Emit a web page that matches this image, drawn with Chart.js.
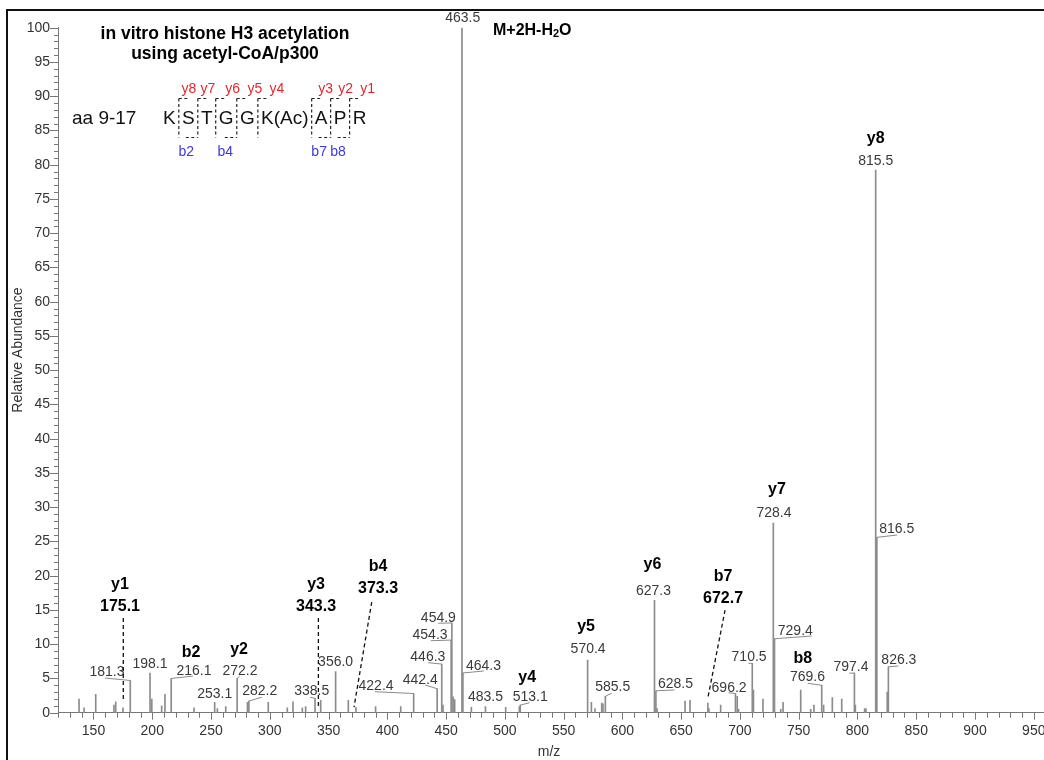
<!DOCTYPE html>
<html>
<head>
<meta charset="utf-8">
<script src="https://cdn.jsdelivr.net/npm/chart.js@4.4.1/dist/chart.umd.min.js"></script>
<style>
  html, body { margin: 0; padding: 0; background: #fff; }
  #wrap { width: 1044px; height: 760px; position: relative; }
</style>
</head>
<body>
<div id="wrap"><canvas id="spectrum" width="1044" height="760"></canvas></div>
<script>
// MS/MS spectrum of the acetylated histone H3 peptide (aa 9-17)
const peakMz = [137.7, 142.0, 151.9, 167.4, 168.9, 175.1, 181.3, 198.1, 199.6, 208.0,
  210.8, 216.1, 235.5, 253.1, 255.4, 262.5, 272.2, 281.0, 282.2, 298.7,
  314.9, 319.7, 327.7, 330.5, 338.5, 343.3, 356.0, 366.8, 373.3, 390.0,
  411.4, 422.4, 442.4, 446.3, 447.4, 454.3, 454.9, 456.0, 457.3, 463.5,
  464.3, 471.5, 483.5, 500.7, 512.3, 513.1, 570.4, 573.6, 576.7, 582.4,
  583.5, 585.5, 627.3, 628.5, 629.5, 653.3, 657.5, 672.7, 673.6, 683.6,
  696.2, 697.7, 698.8, 710.5, 711.5, 719.6, 728.4, 729.4, 734.7, 736.7,
  751.7, 760.2, 763.0, 769.6, 771.2, 778.6, 786.6, 797.4, 798.2, 806.1,
  807.2, 815.5, 816.5, 825.3, 826.3];
const peakIntensity = [2.0, 0.7, 2.7, 1.1, 1.6, 0.7, 4.7, 5.8, 2.0, 1.0,
  2.7, 5.0, 0.7, 1.5, 0.6, 0.9, 5.0, 1.5, 1.7, 1.5,
  0.7, 1.6, 0.7, 0.9, 2.1, 1.8, 6.0, 1.8, 0.8, 0.9,
  0.9, 2.8, 3.5, 7.1, 1.1, 10.6, 13.1, 2.3, 1.9, 100,
  5.8, 0.8, 0.9, 0.8, 0.9, 1.1, 7.7, 1.5, 0.6, 1.4,
  1.3, 2.4, 16.4, 3.2, 0.6, 1.7, 1.8, 1.4, 0.6, 1.1,
  2.8, 2.4, 0.5, 7.2, 3.3, 2.0, 27.7, 10.8, 0.5, 1.5,
  3.3, 0.5, 1.1, 4.0, 1.1, 2.2, 2.0, 5.8, 1.1, 0.6,
  0.6, 79.2, 25.6, 3.0, 6.7];

// peaks whose m/z is printed above them
const labelledMz = [181.3, 198.1, 216.1, 253.1, 272.2, 282.2, 338.5, 356.0, 422.4, 442.4,
  446.3, 454.3, 454.9, 463.5, 464.3, 483.5, 513.1, 570.4, 585.5, 627.3,
  628.5, 696.2, 710.5, 728.4, 729.4, 769.6, 797.4, 815.5, 816.5, 826.3];

// fragment ion assignments
const ionNames = ['b2', 'y2', 'y4', 'y5', 'y6', 'y7', 'b8', 'y8'];
const ionMz = [216.1, 272.2, 513.1, 570.4, 627.3, 728.4, 769.6, 815.5];
const calloutNames = ['y1', 'y3', 'b4', 'b7'];
const calloutMz = [175.1, 343.3, 373.3, 672.7];
const precursorName = 'M+2H-H2O';
const precursorMz = 463.5;

// peptide sequence with its fragment ions
const titleLines = ['in vitro histone H3 acetylation', 'using acetyl-CoA/p300'];
const peptideRange = 'aa 9-17';
const residues = ['K', 'S', 'T', 'G', 'G', 'K(Ac)', 'A', 'P', 'R'];
const yIonsInset = ['y8', 'y7', 'y6', 'y5', 'y4', 'y3', 'y2', 'y1'];
const bIonsInset = [null, 'b2', null, 'b4', null, null, 'b7', 'b8'];

// axis range and tick labels
const xMin = 119.8, xMax = 958.7;
const xTickStep = 50, xMinorStep = 10;
const yTickStep = 5, yMinorStep = 1;
const xTitle = 'm/z';
const yTitle = 'Relative Abundance';

// ---------- layout (pixel offsets from each peak top) ----------
const FONT = '"Liberation Sans", Arial, Helvetica, sans-serif';
const peakLabelPlacement = {
  '181.3': { at: [-23.3, -8], lead: [-25.3, -2.5] },
  '198.1': { at: [0, -9] },
  '216.1': { at: [22.8, -7.4], lead: [21.8, -2.4] },
  '253.1': { at: [0, -8.4] },
  '272.2': { at: [2.9, -7.4], lead: [2.6, -2.4] },
  '282.2': { at: [10.8, -10], lead: [12.8, -3.8] },
  '338.5': { at: [-3.3, -7.3], lead: [-5, -1] },
  '356.0': { at: [0, -9.3] },
  '422.4': { at: [-37.6, -7.5], lead: [-38.6, -1.8] },
  '442.4': { at: [-17, -8.7], lead: [-12, -3.7] },
  '446.3': { at: [-13.9, -7.4], lead: [-13.6, -1.4] },
  '454.3': { at: [-21.1, -5.1], lead: [-20.4, 0.6] },
  '454.9': { at: [-13.5, -5.3], lead: [-13.5, 0.3] },
  '463.5': { at: [0.8, -9.7] },
  '464.3': { at: [20.6, -7], lead: [20.9, -2] },
  '483.5': { at: [0, -9.8] },
  '513.1': { at: [10, -8.5], lead: [9.3, -2.5] },
  '570.4': { at: [0.5, -10.7] },
  '585.5': { at: [7.4, -9], lead: [6.4, -3] },
  '627.3': { at: [-1, -9.7] },
  '628.5': { at: [19.5, -6.8], lead: [18.5, -0.8] },
  '696.2': { at: [-6.4, -5.8], lead: [-6.9, -0.8] },
  '710.5': { at: [-3.2, -6.7], lead: [-3.9, -0.1] },
  '728.4': { at: [0.6, -9.7] },
  '729.4': { at: [20.8, -8], lead: [37.1, -2.7] },
  '769.6': { at: [-14.3, -8], lead: [-14, -2] },
  '797.4': { at: [-3.4, -6.3], lead: [-5, 0.3] },
  '815.5': { at: [0, -9] },
  '816.5': { at: [19.9, -8], lead: [20.2, -2.3] },
  '826.3': { at: [10.5, -6.8], lead: [10, -0.8] }
};
const ionNamePlacement = {
  b2: [20, -25.4], y2: [2, -28.4], y4: [7, -28], y5: [-1.5, -33],
  y6: [-2, -36], y7: [3.6, -33], b8: [-19, -27], y8: [0, -32]
};
const calloutPlacement = {
  y1: { at: [-3, -123], from: [0.3, -90], to: [0.3, -8] },
  y3: { at: [-4.6, -115.4], from: [-2.3, -82.4], to: [-2.3, 5.6] },
  b4: { at: [22.1, -140.2], from: [15.8, -105.2], to: [-1.9, -0.2] },
  b7: { at: [15.2, -126.1], from: [17.2, -93.1], to: [0.2, -6.1] }
};
const yIonLabelShift = [10, 10, 17, 18, 19, 14, 15, 18];

function fmt(v) { return v.toFixed(1); }

const annotations = {
  id: 'spectrumAnnotations',
  afterDraw(chart) {
    const { ctx, scales: { x, y }, chartArea } = chart;
    const px = v => x.getPixelForValue(v);
    const py = v => y.getPixelForValue(v);
    const intensityAt = mz => peakIntensity[peakMz.indexOf(mz)];
    ctx.save();

    // outer frame
    ctx.strokeStyle = '#111';
    ctx.lineWidth = 2;
    ctx.beginPath();
    ctx.moveTo(1050, 10); ctx.lineTo(7, 10); ctx.lineTo(7, 770);
    ctx.stroke();

    // axis tick marks
    ctx.strokeStyle = '#777';
    ctx.lineWidth = 1;
    ctx.beginPath();
    for (let v = 0; v <= 100; v += yMinorStep) {
      const yy = Math.round(py(v)) + 0.5;
      const len = v % yTickStep === 0 ? 8 : 4;
      ctx.moveTo(chartArea.left, yy); ctx.lineTo(chartArea.left - len, yy);
    }
    for (let v = Math.ceil(xMin / xMinorStep) * xMinorStep; v <= xMax; v += xMinorStep) {
      const xx = Math.round(px(v)) + 0.5;
      const len = v % xTickStep === 0 ? 7 : 5;
      ctx.moveTo(xx, chartArea.bottom); ctx.lineTo(xx, chartArea.bottom + len);
    }
    ctx.stroke();

    // axis titles
    ctx.fillStyle = '#333';
    ctx.font = '14px ' + FONT;
    ctx.textAlign = 'center';
    ctx.textBaseline = 'middle';
    ctx.fillText(xTitle, 549, 752);
    ctx.save();
    ctx.translate(18, 350);
    ctx.rotate(-Math.PI / 2);
    ctx.fillText(yTitle, 0, 0);
    ctx.restore();

    // m/z labels above peaks
    ctx.font = '14px ' + FONT;
    ctx.fillStyle = '#3a3a3a';
    ctx.strokeStyle = '#8a8a8a';
    ctx.lineWidth = 1;
    labelledMz.forEach(mz => {
      const p = peakLabelPlacement[fmt(mz)];
      const tx = px(mz), ty = py(intensityAt(mz));
      if (p.lead) {
        ctx.beginPath();
        ctx.moveTo(tx, ty);
        ctx.lineTo(tx + p.lead[0], ty + p.lead[1]);
        ctx.stroke();
      }
      ctx.fillText(fmt(mz), tx + p.at[0], ty + p.at[1]);
    });

    // fragment ion names
    ctx.fillStyle = '#000';
    ctx.font = 'bold 16px ' + FONT;
    ionNames.forEach((name, i) => {
      const mz = ionMz[i];
      const o = ionNamePlacement[name];
      ctx.fillText(name, px(mz) + o[0], py(intensityAt(mz)) + o[1]);
    });

    // callouts with dashed leaders
    calloutNames.forEach((name, i) => {
      const mz = calloutMz[i];
      const c = calloutPlacement[name];
      const tx = px(mz), ty = py(intensityAt(mz));
      ctx.fillStyle = '#000';
      ctx.fillText(name, tx + c.at[0], ty + c.at[1]);
      ctx.fillText(fmt(mz), tx + c.at[0], ty + c.at[1] + 21.5);
      ctx.save();
      ctx.strokeStyle = '#111';
      ctx.lineWidth = 1.3;
      ctx.setLineDash([4, 3]);
      ctx.beginPath();
      ctx.moveTo(tx + c.from[0], ty + c.from[1]);
      ctx.lineTo(tx + c.to[0], ty + c.to[1]);
      ctx.stroke();
      ctx.restore();
    });

    // precursor annotation with subscript
    {
      const tx = px(precursorMz) + 31, ty = py(intensityAt(precursorMz)) + 3;
      ctx.textAlign = 'left';
      const parts = precursorName.split('H2O');
      let cx = tx;
      ctx.font = 'bold 16px ' + FONT;
      const head = parts[0] + 'H';
      ctx.fillText(head, cx, ty); cx += ctx.measureText(head).width;
      ctx.font = 'bold 11px ' + FONT;
      ctx.fillText('2', cx, ty + 3); cx += ctx.measureText('2').width;
      ctx.font = 'bold 16px ' + FONT;
      ctx.fillText('O', cx, ty);
    }

    // title block
    ctx.textAlign = 'center';
    ctx.font = 'bold 17.5px ' + FONT;
    ctx.fillText(titleLines[0], 225, 34);
    ctx.fillText(titleLines[1], 225, 54);

    // peptide sequence
    ctx.font = '19px ' + FONT;
    ctx.textAlign = 'left';
    ctx.fillStyle = '#111';
    ctx.fillText(peptideRange, 72, 119);
    const gap = 6.3;
    let cx = 163;
    const bounds = [];
    residues.forEach((r, i) => {
      ctx.fillText(r, cx, 119);
      cx += ctx.measureText(r).width;
      if (i < residues.length - 1) { bounds.push(cx + gap / 2); cx += gap; }
    });
    const top = 98.5, bottom = 137.5;
    ctx.save();
    ctx.strokeStyle = '#222';
    ctx.lineWidth = 1.2;
    ctx.setLineDash([3, 2.5]);
    bounds.forEach((b, i) => {
      ctx.beginPath();
      ctx.moveTo(b, top); ctx.lineTo(b, bottom);
      ctx.moveTo(b, top); ctx.lineTo(b + 11, top);
      if (bIonsInset[i]) { ctx.moveTo(b - 12, bottom); ctx.lineTo(b, bottom); }
      ctx.stroke();
    });
    ctx.restore();
    ctx.textAlign = 'center';
    ctx.font = '14px ' + FONT;
    ctx.fillStyle = '#e8262a';
    bounds.forEach((b, i) => ctx.fillText(yIonsInset[i], b + yIonLabelShift[i], 89));
    ctx.fillStyle = '#3a3ae0';
    bounds.forEach((b, i) => { if (bIonsInset[i]) ctx.fillText(bIonsInset[i], b - 11.5, 152); });

    ctx.restore();
  }
};

new Chart(document.getElementById('spectrum'), {
  type: 'bar',
  data: {
    datasets: [{
      data: peakMz.map((m, i) => ({ x: m, y: peakIntensity[i] })),
      backgroundColor: '#8c8c8c',
      borderWidth: 0,
      barThickness: 1
    }]
  },
  options: {
    responsive: false,
    animation: false,
    devicePixelRatio: 1,
    layout: { padding: { top: 27.7, left: 0, right: 0, bottom: 0 }, autoPadding: false },
    plugins: { legend: { display: false }, tooltip: { enabled: false } },
    scales: {
      x: {
        type: 'linear', min: xMin, max: xMax, offset: false,
        grid: { display: false, drawTicks: false },
        border: { display: true, color: '#777', width: 1 },
        ticks: {
          stepSize: xTickStep, includeBounds: false, autoSkip: false, maxRotation: 0,
          padding: 10, color: '#333', font: { family: FONT, size: 14 }
        },
        afterFit(s) { s.height = 47.3; s.paddingLeft = 0; s.paddingRight = 0; }
      },
      y: {
        min: 0, max: 100,
        grid: { display: false, drawTicks: false },
        border: { display: true, color: '#777', width: 1 },
        ticks: {
          stepSize: yTickStep, autoSkip: false, padding: 8,
          color: '#333', font: { family: FONT, size: 14 }
        },
        afterFit(s) { s.width = 58; s.paddingTop = 0; s.paddingBottom = 0; }
      }
    }
  },
  plugins: [annotations]
});
</script>
</body>
</html>
